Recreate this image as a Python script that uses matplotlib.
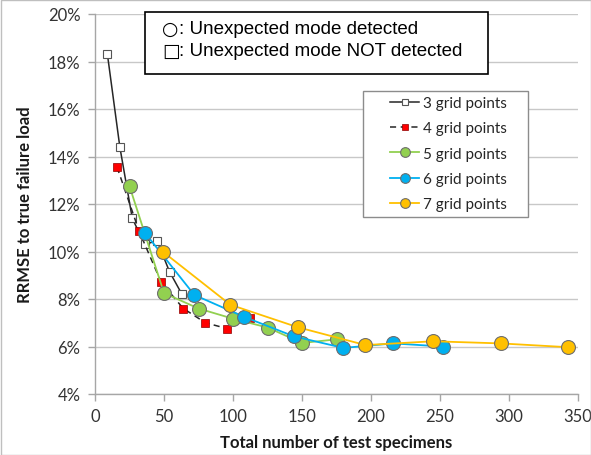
import matplotlib
matplotlib.use("Agg")
import matplotlib.pyplot as plt
import matplotlib.ticker as tck
from matplotlib.patches import Rectangle

# ------------------------------- data: total specimens vs. RRMSE (%) per grid size
x3 = [9, 18, 27, 36, 45, 54, 63]
y3 = [18.3, 14.4, 11.4, 10.3, 10.45, 9.15, 8.2]

x4 = [16, 32, 48, 64, 80, 96, 112]
y4 = [13.55, 10.85, 8.7, 7.6, 7.0, 6.75, 7.2]

x5 = [25, 50, 75, 100, 125, 150, 175]
y5 = [12.75, 8.25, 7.6, 7.17, 6.8, 6.15, 6.3]

x6 = [36, 72, 108, 144, 180, 216, 252]
y6 = [10.8, 8.17, 7.25, 6.43, 5.94, 6.13, 6.0]

x7 = [49, 98, 147, 196, 245, 294, 343]
y7 = [10.0, 7.76, 6.81, 6.06, 6.22, 6.13, 5.97]

labels = ['3 grid points', '4 grid points', '5 grid points', '6 grid points', '7 grid points']

W, H = 591, 456
fig = plt.figure(figsize=(W / 100, H / 100), dpi=100)
L, R, T, B = 95, 578, 15, 395
ax = fig.add_axes([L / W, 1 - B / H, (R - L) / W, (B - T) / H])

font = 'Lato'
edge = '#6e6e6e'

ax.plot(x3, y3, color='#262626', lw=1.1, marker='s', ms=5.5, mfc='white',
        mec='#555555', mew=0.8, label=labels[0], zorder=3)
ax.plot(x4, y4, color='#262626', lw=1.1, ls=(0, (4, 3)), marker='s', ms=5.5,
        mfc='#ff0000', mec='#8b0000', mew=0.5, label=labels[1], zorder=3)
ax.plot(x5, y5, color='#92d050', lw=1.3, marker='o', ms=10, mfc='#92d050',
        mec=edge, mew=0.8, label=labels[2], zorder=4)
ax.plot(x6, y6, color='#00b0f0', lw=1.3, marker='o', ms=10, mfc='#00b0f0',
        mec=edge, mew=0.8, label=labels[3], zorder=4)
ax.plot(x7, y7, color='#ffc000', lw=1.3, marker='o', ms=10, mfc='#ffc000',
        mec=edge, mew=0.8, label=labels[4], zorder=4)

ax.set_xlim(0, 350)
ax.set_ylim(4, 20)
ax.xaxis.set_major_locator(tck.MultipleLocator(50))
ax.yaxis.set_major_locator(tck.MultipleLocator(2))
ax.yaxis.set_major_formatter(tck.FormatStrFormatter('%d%%'))
ax.grid(axis='y', color='#c8c8c8', lw=1.0)
ax.set_axisbelow(True)
for s in ('top', 'right'):
    ax.spines[s].set_visible(False)
for s in ('left', 'bottom'):
    ax.spines[s].set_color('#a6a6a6')
    ax.spines[s].set_linewidth(1.0)
ax.tick_params(colors='#a6a6a6', labelcolor='#333333', length=5, width=1.0)
ax.tick_params(axis='x', pad=5)
ax.tick_params(axis='y', pad=5.5)
for lab in ax.get_xticklabels() + ax.get_yticklabels():
    lab.set_fontfamily(font)
    lab.set_fontsize(12)

ax.set_xlabel('Total number of test specimens', fontfamily=font,
              fontweight='bold', fontsize=12, color='#1a1a1a', labelpad=7)
ax.set_ylabel('RRMSE to true failure load', fontfamily=font,
              fontweight='bold', fontsize=12, color='#1a1a1a', labelpad=11)

# legend: frame drawn separately so its padding can be set freely
def fx(px):
    return (px - L) / (R - L)


def fy(py):
    return 1 - (py - T) / (B - T)


ax.add_patch(Rectangle((fx(363), fy(218)), fx(528) - fx(363), fy(92) - fy(218),
                       transform=ax.transAxes, facecolor='white',
                       edgecolor='#8c8c8c', lw=1.0, zorder=5))
leg = ax.legend(loc='upper left', bbox_to_anchor=(fx(390), fy(97)),
                frameon=False, prop={'family': font, 'size': 11},
                handlelength=1.9, handletextpad=0.25, labelspacing=0.74,
                borderpad=0, borderaxespad=0, markerscale=0.7)
leg.set_zorder(6)
for t in leg.get_texts():
    t.set_color('#262626')

# note box about unexpected failure modes
box = Rectangle((145 / W, 1 - 75 / H), (488 - 145) / W, (75 - 13) / H,
                transform=fig.transFigure, facecolor='white', edgecolor='black',
                lw=1.2, zorder=10)
fig.patches.append(box)
note_fam = ['Liberation Sans', 'DejaVu Sans']
for yy, sym, txt in [(29, '\u25cb', ': Unexpected mode detected'),
                     (51, '\u25a1', ': Unexpected mode NOT detected')]:
    fig.text(162 / W, 1 - yy / H, sym, family='DejaVu Sans', fontsize=13.5,
             va='center', ha='left', zorder=11)
    fig.text(179 / W, 1 - yy / H, txt, family=note_fam, fontsize=13.5,
             va='center', ha='left', zorder=11)

# light chart-area border
fig.patches.append(Rectangle((0.5 / W, 0.5 / H), 1 - 1 / W, 1 - 1 / H,
                             transform=fig.transFigure, fill=False,
                             edgecolor='#bfbfbf', lw=1.0))

fig.savefig('out.png', dpi=100)
